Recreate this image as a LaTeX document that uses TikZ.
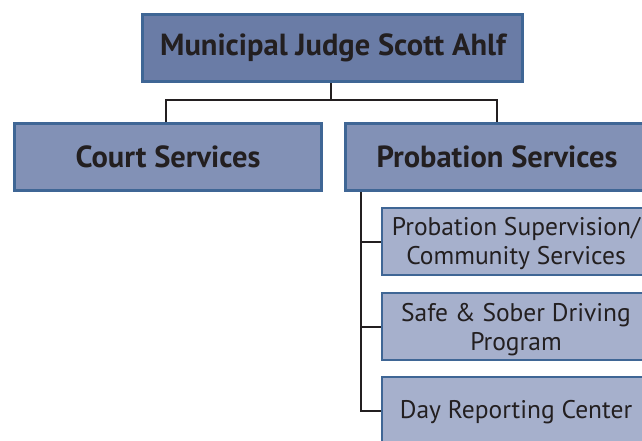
\documentclass[tikz,border=0pt]{standalone}
\usepackage{fontspec}
\setmainfont{PT Sans}
\begin{document}
\begin{tikzpicture}[x=1pt,y=-1pt,
  lvlone/.style={draw=edgeblue,line width=3pt,fill=fillone,inner sep=0pt,anchor=north west},
  lvltwo/.style={draw=edgeblue,line width=3pt,fill=filltwo,inner sep=0pt,anchor=north west},
  lvlthree/.style={draw=edgeblue,line width=2pt,fill=fillthree,inner sep=0pt,anchor=north west},
  link/.style={draw=linkblack,line width=2pt},
  boldtxt/.style={font=\fontsize{30.5}{34}\selectfont\bfseries,text=linkblack},
  plaintxt/.style={font=\fontsize{25.5}{29}\selectfont,text=linkblack,align=center}]
\definecolor{edgeblue}{HTML}{3F6695}
\definecolor{fillone}{HTML}{6A7CA6}
\definecolor{filltwo}{HTML}{8291B6}
\definecolor{fillthree}{HTML}{A6B0CC}
\definecolor{linkblack}{HTML}{231F20}
\useasboundingbox (0,0) rectangle (642,440);
\clip (0,0) rectangle (642,440);
% boxes
\node[lvlone,minimum width=380pt,minimum height=67pt] (judge) at (141,13) {};
\node[boldtxt] at ([xshift=0.5pt]judge.center) {Municipal Judge Scott Ahlf};
\node[lvltwo,minimum width=307pt,minimum height=67pt] (court) at (13,122) {};
\node[boldtxt] at (court.center) {Court Services};
\node[lvltwo,minimum width=307pt,minimum height=67pt] (prob) at (344,122) {};
\node[boldtxt] at ([xshift=153pt]prob.west) {Probation Services};
\node[lvlthree,minimum width=280pt,minimum height=67pt] (sup) at (381,207) {};
\node[plaintxt] at ([xshift=135pt,yshift=-2pt]sup.west) {Probation Supervision/\\Community Services};
\node[lvlthree,minimum width=280pt,minimum height=67pt] (safe) at (381,292) {};
\node[plaintxt] at ([xshift=135pt,yshift=-3pt]safe.west) {Safe \& Sober Driving\\Program};
\node[lvlthree,minimum width=280pt,minimum height=67pt] (day) at (381,376) {};
\node[plaintxt] at ([xshift=135pt,yshift=-2pt]day.west) {Day Reporting Center};
% connectors
\coordinate (split) at (331,100);
\draw[link] (judge.south -| split) -- (split);
\draw[link] (court.north -| 166,0) |- (split) -| (prob.north -| 497,0);
\coordinate (spine) at (361,0);
\draw[link] (prob.south -| spine) |- (day.west);
\draw[link] (sup.west -| spine) -- (sup.west);
\draw[link] (safe.west -| spine) -- (safe.west);
\end{tikzpicture}
\end{document}
